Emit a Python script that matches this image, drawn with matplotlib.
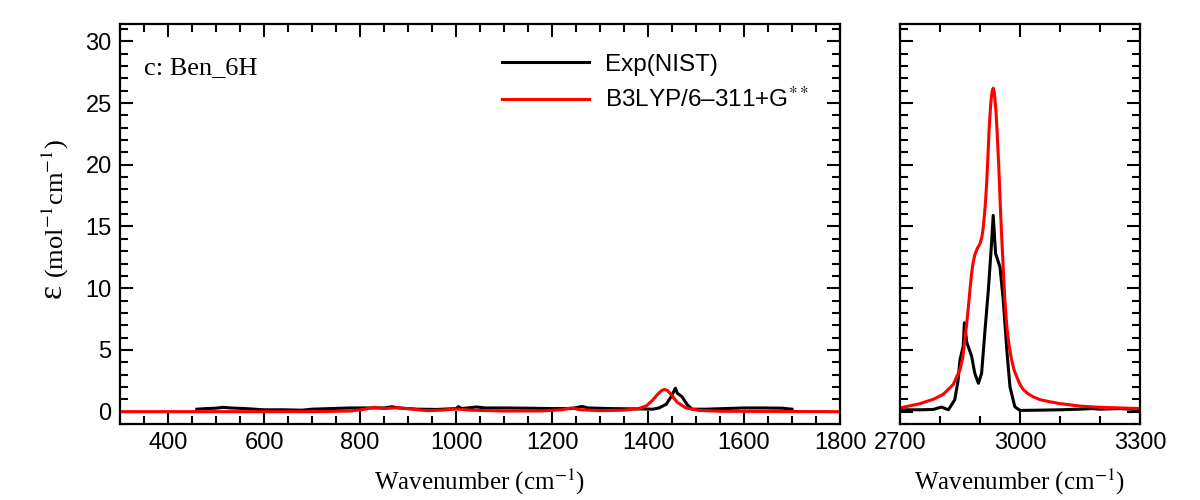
import matplotlib.pyplot as plt
from matplotlib.ticker import MultipleLocator

# Low-frequency region (300-1800 cm-1)
exp_low_x = [460, 480, 500, 515, 530, 560, 600, 640, 680, 700, 740, 780, 820, 850, 867, 880,
             920, 960, 1000, 1005, 1012, 1043, 1060, 1100, 1150, 1200, 1240, 1263, 1275, 1320,
             1380, 1410, 1423, 1438, 1448, 1457, 1461, 1471, 1482, 1492, 1520, 1560, 1600,
             1640, 1680, 1700]
exp_low_y = [0.2, 0.25, 0.28, 0.35, 0.3, 0.25, 0.15, 0.15, 0.12, 0.2, 0.25, 0.3, 0.3, 0.3, 0.4, 0.3,
             0.2, 0.18, 0.25, 0.4, 0.25, 0.38, 0.3, 0.3, 0.28, 0.25, 0.25, 0.42, 0.3, 0.25,
             0.22, 0.2, 0.3, 0.6, 1.2, 1.9, 1.5, 1.2, 0.55, 0.2, 0.2, 0.25, 0.3,
             0.3, 0.28, 0.2]

calc_low_x = [300, 700, 780, 810, 830, 850, 879, 910, 938, 970, 1001, 1030, 1100, 1180, 1220,
              1240, 1260, 1300, 1350, 1380, 1396, 1409, 1420, 1428, 1434, 1441, 1448, 1461,
              1479, 1507, 1550, 1800]
calc_low_y = [0.0, 0.0, 0.05, 0.2, 0.35, 0.25, 0.32, 0.2, 0.08, 0.12, 0.22, 0.12, 0.05, 0.06, 0.15,
              0.3, 0.15, 0.08, 0.12, 0.25, 0.45, 0.9, 1.4, 1.7, 1.8, 1.7, 1.4, 0.75,
              0.3, 0.1, 0.03, 0.0]

# C-H stretch region (2700-3300 cm-1)
exp_high_x = [2700, 2750, 2783, 2804, 2821, 2837, 2845, 2850, 2858, 2861, 2867, 2879, 2887, 2896,
              2904, 2912, 2921, 2929, 2933, 2939, 2950, 2958, 2967, 2975, 2987, 3000, 3050,
              3100, 3150, 3180, 3200, 3250, 3300]
exp_high_y = [0.15, 0.15, 0.18, 0.37, 0.15, 0.97, 2.5, 4.2, 5.3, 7.2, 5.6, 4.5, 3.1, 2.3,
              3.1, 6.4, 9.9, 13.7, 15.9, 12.8, 11.7, 9.1, 5.0, 2.0, 0.4, 0.1, 0.12,
              0.15, 0.2, 0.25, 0.2, 0.25, 0.15]

calc_high_x = [2700, 2750, 2783, 2808, 2833, 2850, 2857, 2862, 2867, 2871, 2875, 2879, 2883,
               2887, 2893, 2900, 2905, 2908, 2911, 2914, 2917, 2920, 2923, 2927, 2930, 2933,
               2936, 2940, 2943, 2947, 2950, 2954, 2958, 2962, 2967, 2973, 2979, 2985, 2992,
               3000, 3008, 3020, 3033, 3050, 3075, 3100, 3150, 3200, 3250, 3300]
calc_high_y = [0.3, 0.65, 1.0, 1.4, 2.2, 3.4, 4.4, 5.8, 7.2, 8.5, 9.9, 11.2, 12.1,
               12.7, 13.2, 13.6, 14.2, 14.9, 15.9, 17.1, 18.7, 20.8, 23.0, 25.0, 25.9, 26.2,
               25.8, 24.3, 22.5, 19.8, 17.3, 14.3, 11.7, 9.1, 6.9, 5.3, 4.2, 3.4, 2.8,
               2.2, 1.8, 1.45, 1.2, 0.97, 0.8, 0.65, 0.45, 0.35, 0.3, 0.25]

plt.rcParams["font.family"] = ["Liberation Sans", "DejaVu Sans"]
plt.rcParams["mathtext.fontset"] = "stix"

fig = plt.figure(figsize=(12, 5), dpi=100)
ax1 = fig.add_axes([0.1, 0.152, 0.6, 0.8])
ax2 = fig.add_axes([0.75, 0.152, 0.2, 0.8])

serif = ["Liberation Serif", "DejaVu Serif"]

ax1.plot(exp_low_x, exp_low_y, color="black", lw=2.2, label="Exp(NIST)")
ax1.plot(calc_low_x, calc_low_y, color="red", lw=2.2, label="B3LYP/6\u2013311+G$^{**}$")
ax2.plot(exp_high_x, exp_high_y, color="black", lw=2.2)
ax2.plot(calc_high_x, calc_high_y, color="red", lw=2.2)

ax1.set_xlim(300, 1800)
ax2.set_xlim(2700, 3300)
for ax in (ax1, ax2):
    ax.set_ylim(-1, 31.4)
    ax.yaxis.set_major_locator(MultipleLocator(5))
    ax.yaxis.set_minor_locator(MultipleLocator(1))
    ax.tick_params(which="both", direction="in", top=True, right=True, width=1.5,
                   labelsize=17, pad=6)
    ax.tick_params(which="major", length=9.5)
    ax.tick_params(which="minor", length=5.5)
    for s in ax.spines.values():
        s.set_linewidth(1.6)
    ax.set_xlabel("Wavenumber (cm$^{-1}$)", family=serif, fontsize=18, labelpad=9)

ax1.xaxis.set_major_locator(MultipleLocator(200))
ax1.xaxis.set_minor_locator(MultipleLocator(50))
ax2.xaxis.set_major_locator(MultipleLocator(300))
ax2.xaxis.set_minor_locator(MultipleLocator(100))
ax2.tick_params(labelleft=False)

ax1.text(0.033, 0.89, "c: Ben_6H", transform=ax1.transAxes, family=serif, fontsize=19,
         va="center")
ax1.legend(loc="upper left", bbox_to_anchor=(0.5, 0.98), frameon=False, fontsize=17.5,
           handlelength=3.6, handletextpad=0.65, labelspacing=0.45)

fig.text(52 / 1200, 1 - 291 / 500, "\u03b5", family=serif, fontsize=24, rotation=90,
         ha="center", va="center")
fig.text(55 / 1200, 1 - 209 / 500, "(mol$^{-1}$cm$^{-1}$)", family=serif, fontsize=19,
         rotation=90, ha="center", va="center")

fig.savefig("out.png", dpi=100)
